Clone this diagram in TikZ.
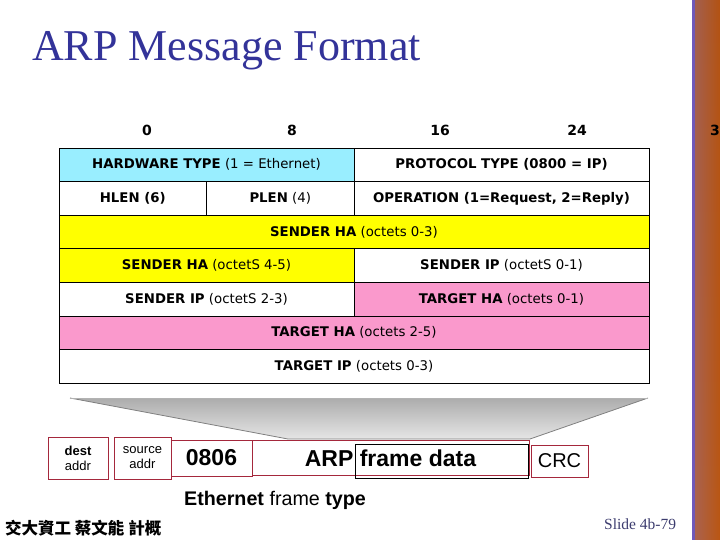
\documentclass[tikz,border=0pt]{standalone}
\usepackage{fontspec}
\setmainfont{Liberation Serif}
\newfontfamily\tabfont{DejaVu Sans}
\newfontfamily\arialfont{Liberation Sans}
\newfontfamily\cjkfont{Noto Sans CJK TC}
\usetikzlibrary{positioning}

\definecolor{titleblue}{RGB}{51,51,153}
\definecolor{hwcyan}{RGB}{153,238,255}
\definecolor{hayellow}{RGB}{255,255,0}
\definecolor{tgpink}{RGB}{250,153,204}
\definecolor{framered}{RGB}{165,40,60}
\definecolor{slideblue}{RGB}{60,60,110}

\tikzset{
  cell/.style={draw, line width=0.8pt, minimum height=33.6pt,
    inner sep=0pt, outer sep=0pt,
    font=\tabfont\fontsize{13.3}{15}\selectfont},
  half/.style={cell, minimum width=295pt},
  full/.style={cell, minimum width=590pt},
  quarter/.style={cell, minimum width=147.5pt},
  fieldbox/.style={draw=framered, line width=0.6pt, inner sep=0pt,
    outer sep=0pt, align=center, font=\arialfont},
  bitlabel/.style={font=\tabfont\bfseries\fontsize{14}{16}\selectfont}
}

\begin{document}
\begin{tikzpicture}[x=1pt, y=-1pt]
  \useasboundingbox (0,0) rectangle (720,540);

  % decorative strip on the right
  \shade[left color={rgb,255:red,110;green,90;blue,190},
    right color={rgb,255:red,150;green,60;blue,40}] (692,0) rectangle (720,540);
  \shade[top color=orange!80!black, middle color=violet!60!black,
    bottom color=orange!85!black, opacity=0.55] (695,0) rectangle (720,540);

  \node (title) [anchor=base west, text=titleblue,
    font=\fontsize{44}{50}\selectfont, inner sep=0pt] at (32,61)
    {ARP Message Format};

  % bit positions
  \node (b0)  [bitlabel] at (147,130) {0};
  \node (b8)  [bitlabel] at (292,130) {8};
  \node (b16) [bitlabel] at (440,130) {16};
  \node (b24) [bitlabel] at (577,130) {24};
  \node (b31) [bitlabel, anchor=west, inner sep=0pt] at (710,130) {3};

  % message fields
  \node (hw) [half, fill=hwcyan, anchor=north west] at (59,148)
    {\textbf{HARDWARE TYPE} (1 = Ethernet)};
  \node (proto) [half, right=0pt of hw]
    {\textbf{PROTOCOL TYPE (0800 = IP)}};

  \node (hlen) [quarter, below=0pt of hw.south west, anchor=north west]
    {\textbf{HLEN (6)}};
  \node (plen) [quarter, right=0pt of hlen]
    {\textbf{PLEN} (4)};
  \node (oper) [half, right=0pt of plen]
    {\textbf{OPERATION (1=Request, 2=Reply)}};

  \node (sha03) [full, fill=hayellow, below=0pt of hlen.south west,
    anchor=north west]
    {\textbf{SENDER HA} (octets 0-3)};

  \node (sha45) [half, fill=hayellow, below=0pt of sha03.south west,
    anchor=north west]
    {\textbf{SENDER HA} (octetS 4-5)};
  \node (spa01) [half, right=0pt of sha45]
    {\textbf{SENDER IP} (octetS 0-1)};

  \node (spa23) [half, below=0pt of sha45]
    {\textbf{SENDER IP} (octetS 2-3)};
  \node (tha01) [half, fill=tgpink, right=0pt of spa23]
    {\textbf{TARGET HA} (octets 0-1)};

  \node (tha25) [full, fill=tgpink, below=0pt of spa23.south west,
    anchor=north west]
    {\textbf{TARGET HA} (octets 2-5)};

  \node (tpa) [full, below=0pt of tha25]
    {\textbf{TARGET IP} (octets 0-3)};

  % ethernet frame
  \node (dest) [fieldbox, minimum width=60pt, minimum height=42pt,
    font=\arialfont\fontsize{13}{15}\selectfont] at (78,458)
    {\textbf{dest}\\addr};
  \node (src) [fieldbox, minimum width=57pt, minimum height=42pt,
    font=\arialfont\fontsize{13}{15}\selectfont, right=6pt of dest]
    {source\\addr};
  \node (type) [fieldbox, minimum width=81pt, minimum height=36pt,
    font=\arialfont\bfseries\fontsize{23}{26}\selectfont, right=0pt of src]
    {0806};
  \node (data) [fieldbox, minimum width=277pt, minimum height=35pt,
    font=\arialfont\bfseries\fontsize{23}{26}\selectfont, right=0pt of type]
    {ARP frame data};
  \node (crc) [fieldbox, minimum width=57pt, minimum height=32pt,
    font=\arialfont\fontsize{20}{24}\selectfont, right=2pt of data,
    yshift=-3pt] {CRC};
  \draw[line width=0.8pt] (355,444) rectangle (528,478);

  % gray funnel from the message down to the frame
  \shade[top color=gray!65, bottom color=gray!20]
    (70,398) -- (648,398) -- (530,439) -- (288,439) -- cycle;
  \draw[gray, line width=0.8pt] (70,398) -- (288,439) -- (530,439) -- (648,398);
  \draw[gray!60, line width=0.5pt] (70,398) -- (648,398);

  \node (ethtype) [font=\arialfont\fontsize{19.7}{23}\selectfont] at (275,500)
    {\textbf{Ethernet} frame \textbf{type}};

  % footer
  \node (author) [anchor=west, inner sep=0pt,
    font=\cjkfont\bfseries\fontsize{16.5}{19}\selectfont] at (5,528)
    {交大資工 蔡文能 計概};
  \node (slide) [anchor=west, inner sep=0pt, text=slideblue,
    font=\fontsize{15.5}{18}\selectfont] at (604,524) {Slide 4b-79};
\end{tikzpicture}
\end{document}
